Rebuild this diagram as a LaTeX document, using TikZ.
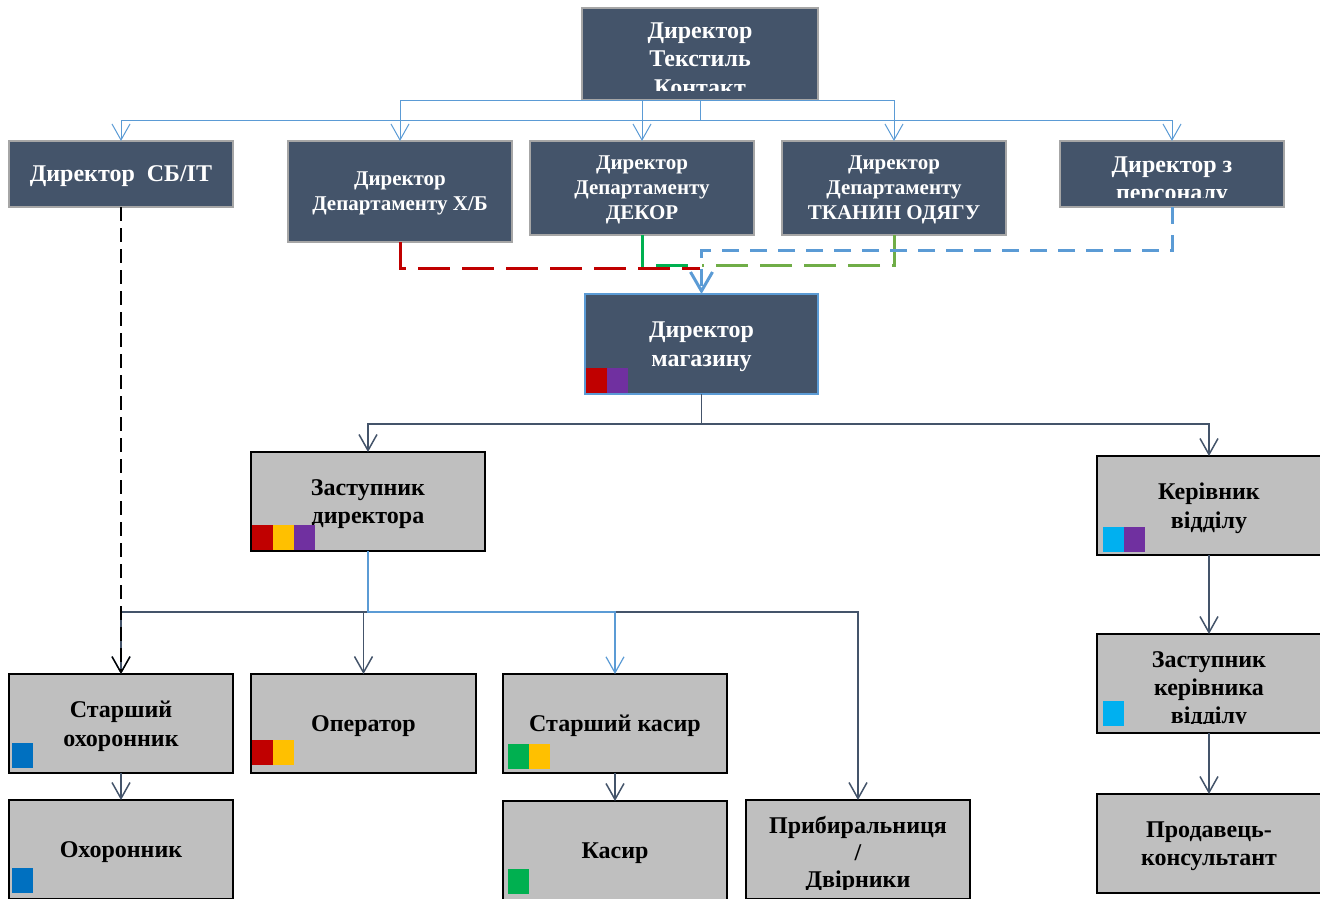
\documentclass[tikz,border=0pt]{standalone}
\usepackage{fontspec}
\setmainfont{Liberation Serif}
\usetikzlibrary{arrows.meta,positioning}

\definecolor{slate}{HTML}{44546A}
\definecolor{boxgrey}{HTML}{A6A6A6}
\definecolor{panel}{HTML}{BFBFBF}
\definecolor{sky}{HTML}{5B9BD5}
\definecolor{crimson}{HTML}{C00000}
\definecolor{amber}{HTML}{FFC000}
\definecolor{violet}{HTML}{7030A0}
\definecolor{leaf}{HTML}{00B050}
\definecolor{olive}{HTML}{70AD47}
\definecolor{cyan}{HTML}{00B0F0}
\definecolor{ocean}{HTML}{0070C0}

% coloured marks in the lower left corner of a box
\newcommand{\tags}[4]{%
  \foreach \c [count=\i from 0] in {#4}
    \fill[\c] ([xshift={(#2+21*\i)*1pt},yshift=#3pt]#1.south west) rectangle ++(21,-25);}

\begin{document}
\begin{tikzpicture}[x=1pt,y=-1pt,node distance=10pt,on grid,
    box/.style={draw,inner sep=0pt,outer sep=0pt,align=center,text depth=-5pt,
      font=\bfseries\fontsize{24}{28.5}\selectfont},
    darkbox/.style={box,fill=slate,draw=boxgrey,line width=1.5pt,text=white,minimum width=224pt},
    dept/.style={darkbox,text depth=-3pt,font=\bfseries\fontsize{21}{25}\selectfont},
    greybox/.style={box,fill=panel,draw=black,line width=1.8pt,minimum width=224pt,minimum height=99pt},
    label/.style={inner sep=0pt,align=center},
    toplink/.style={draw=sky,line width=1pt,-{Straight Barb[length=16pt,width=18pt]}},
    link/.style={draw=slate,line width=1.5pt,-{Straight Barb[length=16pt,width=18pt]}},
    thinlink/.style={draw=sky,line width=1.2pt,-{Straight Barb[length=16pt,width=18pt]}},
    longdash/.style={line width=3pt,dash pattern=on 32pt off 12pt},
    shortdash/.style={line width=3pt,dash pattern=on 17pt off 11pt}]

  \path[use as bounding box,clip] (0,0) rectangle (1320,898);

  % head office
  \node[darkbox,minimum width=236pt,minimum height=92pt] (dir) at (700,54) {};
  \begin{scope}
    \clip ([yshift=10pt]dir.south west) rectangle (dir.north east);
    \node[label,text=white,font=\bfseries\fontsize{24}{28.5}\selectfont] (dir-t)
      at ([yshift=-5pt]dir.center) {Директор\\Текстиль\\Контакт};
  \end{scope}

  \node[darkbox,minimum height=66pt] (sb) at (121,174) {Директор~~СБ/IT};
  \node[dept,minimum height=101pt] (xb) at (400,191.5) {Директор\\Департаменту Х/Б};
  \node[dept,minimum height=94pt] (dekor) at (642,188) {Директор\\Департаменту\\ДЕКОР};
  \node[dept,minimum height=94pt] (tkan) at (894,188) {Директор\\Департаменту\\ТКАНИН ОДЯГУ};
  \node[darkbox,minimum height=66pt] (pers) at (1172,174) {};
  \begin{scope}
    \clip ([yshift=10pt]pers.south west) rectangle (pers.north east);
    \node[label,text=white,font=\bfseries\fontsize{24}{28}\selectfont] (pers-t)
      at ([yshift=-7pt]pers.center) {Директор з\\персоналу};
  \end{scope}

  % shop
  \node[darkbox,draw=sky,minimum width=233pt,minimum height=100pt] (mag) at (701.5,344) {Директор\\магазину};
  \node[greybox,minimum width=234pt] (zast) at (368,501.5) {Заступник\\директора};
  \node[greybox] (ker) at (1209,505.5) {Керівник\\відділу};
  \node[greybox] (zker) [below=178pt of ker] {};
  \begin{scope}
    \clip ([yshift=10pt]zker.south west) rectangle (zker.north east);
    \node[label,font=\bfseries\fontsize{24}{28}\selectfont] (zker-t)
      at ([yshift=-7pt]zker.center) {Заступник\\керівника\\відділу};
  \end{scope}
  \node[greybox] (prod) [below=160pt of zker] {Продавець-\\консультант};

  \node[greybox] (sohor) at (121,723.5) {Старший\\охоронник};
  \node[greybox,minimum width=225pt] (oper) at (363.5,723.5) {Оператор};
  \node[greybox] (skas) at (615,723.5) {Старший касир};
  \node[greybox] (ohor) [below=126pt of sohor] {Охоронник};
  \node[greybox] (kas) [below=127pt of skas] {Касир};
  \node[greybox] (prib) at (858,849.5) {};
  \begin{scope}
    \clip ([yshift=10pt]prib.south west) rectangle (prib.north east);
    \node[label,font=\bfseries\fontsize{24}{27}\selectfont] (prib-t)
      at ([yshift=-4.5pt]prib.center) {Прибиральниця\\/\\Двірники};
  \end{scope}

  \tags{mag}{1}{1}{crimson,violet}
  \tags{zast}{1}{1}{crimson,amber,violet}
  \tags{ker}{6}{3}{cyan,violet}
  \tags{zker}{6}{7}{cyan}
  \tags{sohor}{3}{5}{ocean}
  \tags{ohor}{3}{6}{ocean}
  \tags{oper}{1}{8}{crimson,amber}
  \tags{skas}{5}{4}{leaf,amber}
  \tags{kas}{5}{6}{leaf}

  % head office links
  \draw[toplink] (dir.south) -| (xb.north);
  \draw[toplink] (dir.south) -| (dekor.north);
  \draw[toplink] (dir.south) -| (tkan.north);
  \draw[toplink] (dir.south) -- ++(0,20) -| (sb.north);
  \draw[toplink] (dir.south) -- ++(0,20) -| (pers.north);

  % departments to the shop
  \draw[crimson,longdash] (xb.south) |- ([xshift=-1.5pt,yshift=26pt]mag.north);
  \draw[leaf,longdash] (dekor.south) |- ([xshift=-11pt,yshift=29pt]mag.north);
  \draw[olive,longdash] (tkan.south) |- ([yshift=29pt]mag.north);
  \draw[sky,shortdash,-{Straight Barb[length=19pt,width=22pt]}]
    (pers.south) |- ([yshift=44pt]mag.north) -- (mag.north);

  % shop links
  \draw[link] (mag.south) -- ++(0,30) -| (zast.north);
  \draw[link] (mag.south) -- ++(0,30) -| (ker.north);
  \draw[link] (zast.south) -- ++(0,61) -| (sohor.north);
  \draw[link] (zast.south) -- ++(0,61) -| (oper.north);
  \draw[link] (zast.south) -- ++(0,61) -| (prib.north);
  \draw[thinlink] (zast.south) -- ++(0,61) -| (skas.north);
  \draw[black,line width=1.3pt,dash pattern=on 14pt off 7pt,-{Straight Barb[length=16pt,width=18pt]}]
    (sb.south) -- (sohor.north);
  \draw[link] (sohor) -- (ohor);
  \draw[link] (skas) -- (kas);
  \draw[link] (ker) -- (zker);
  \draw[link] (zker) -- (prod);
\end{tikzpicture}
\end{document}
